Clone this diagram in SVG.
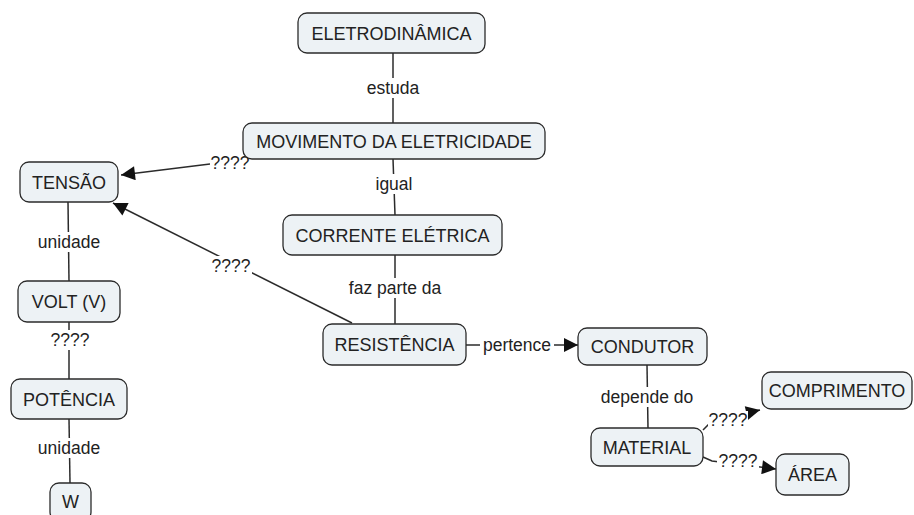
<svg xmlns="http://www.w3.org/2000/svg" width="914" height="515" viewBox="0 0 914 515">
<defs>
<style>
.n rect{fill:#edf2f5;stroke:#2b2b2b;stroke-width:1.3}
.n text{font-family:"Liberation Sans",Arial,sans-serif;font-size:18px;fill:#222;text-anchor:middle;dominant-baseline:central}
.c line,.c polyline{stroke:#2b2b2b;stroke-width:1.5;fill:none}
.l{font-family:"Liberation Sans",Arial,sans-serif;font-size:17.5px;fill:#222;text-anchor:middle;dominant-baseline:central}
.lb{fill:#fff}
</style>
<marker id="ah" viewBox="0 0 10 10" refX="10" refY="5" markerWidth="18" markerHeight="14" markerUnits="userSpaceOnUse" orient="auto">
<path d="M0,0 L10,5 L0,10 z" fill="#111"/>
</marker>
</defs>
<rect width="914" height="515" fill="#fff"/>
<g id="connectors" class="c">
<line x1="393" y1="53" x2="393" y2="123"/>
<line x1="393" y1="159" x2="395" y2="215"/>
<line x1="395" y1="255" x2="395" y2="324"/>
<line x1="210" y1="164" x2="121" y2="175" marker-end="url(#ah)"/>
<line x1="352" y1="323" x2="113" y2="203" marker-end="url(#ah)"/>
<line x1="68" y1="202" x2="69" y2="281"/>
<line x1="69" y1="322" x2="69" y2="379"/>
<line x1="69" y1="419" x2="70" y2="483"/>
<line x1="466" y1="345" x2="578" y2="345" marker-end="url(#ah)"/>
<line x1="647" y1="365" x2="648" y2="428"/>
<polyline points="703,430 712,421 760,410" marker-end="url(#ah)"/>
<polyline points="703,457 712,461 776,469" marker-end="url(#ah)"/>
</g>
<g id="labels">
<rect class="lb" x="364" y="78" width="58" height="20"/><text class="l" x="393" y="88">estuda</text>
<rect class="lb" x="376" y="174" width="36" height="20"/><text class="l" x="394" y="184">igual</text>
<rect class="lb" x="346" y="278" width="98" height="20"/><text class="l" x="395" y="288">faz parte da</text>
<rect class="lb" x="210" y="154" width="40" height="18"/><text class="l" x="230" y="163">????</text>
<rect class="lb" x="211" y="256" width="41" height="19"/><text class="l" x="231" y="266">????</text>
<rect class="lb" x="36" y="232" width="66" height="20"/><text class="l" x="69" y="242">unidade</text>
<rect class="lb" x="49" y="330" width="42" height="20"/><text class="l" x="70" y="340">????</text>
<rect class="lb" x="36" y="438" width="66" height="20"/><text class="l" x="69" y="448">unidade</text>
<rect class="lb" x="480" y="335" width="74" height="20"/><text class="l" x="517" y="345">pertence</text>
<rect class="lb" x="596" y="387" width="102" height="20"/><text class="l" x="647" y="397">depende do</text>
<rect class="lb" x="708" y="411" width="40" height="18"/><text class="l" x="728" y="420">????</text>
<rect class="lb" x="717" y="451" width="42" height="19"/><text class="l" x="738" y="461">????</text>
</g>
<g id="eletrodinamica" class="n"><rect x="298" y="13" width="187" height="40" rx="9"/><text x="391.5" y="34">ELETRODINÂMICA</text></g>
<g id="movimento" class="n"><rect x="243" y="123" width="302" height="36" rx="9"/><text x="394" y="142">MOVIMENTO DA ELETRICIDADE</text></g>
<g id="corrente" class="n"><rect x="283" y="215" width="219" height="40" rx="9"/><text x="392.5" y="236">CORRENTE ELÉTRICA</text></g>
<g id="tensao" class="n"><rect x="20" y="162" width="98" height="40" rx="9"/><text x="69" y="183">TENSÃO</text></g>
<g id="volt" class="n"><rect x="18" y="281" width="102" height="41" rx="9"/><text x="69" y="302">VOLT (V)</text></g>
<g id="potencia" class="n"><rect x="11" y="379" width="116" height="40" rx="9"/><text x="69" y="400">POTÊNCIA</text></g>
<g id="w" class="n"><rect x="50" y="483" width="41" height="38" rx="9"/><text x="70.5" y="502">W</text></g>
<g id="resistencia" class="n"><rect x="323" y="324" width="143" height="41" rx="9"/><text x="394.5" y="345">RESISTÊNCIA</text></g>
<g id="condutor" class="n"><rect x="578" y="328" width="129" height="37" rx="9"/><text x="642.5" y="347">CONDUTOR</text></g>
<g id="material" class="n"><rect x="591" y="428" width="112" height="38" rx="9"/><text x="647" y="448">MATERIAL</text></g>
<g id="comprimento" class="n"><rect x="762" y="372" width="150" height="37" rx="9"/><text x="837" y="391">COMPRIMENTO</text></g>
<g id="area" class="n"><rect x="776" y="454" width="73" height="41" rx="9"/><text x="812.5" y="475">ÁREA</text></g>
</svg>
